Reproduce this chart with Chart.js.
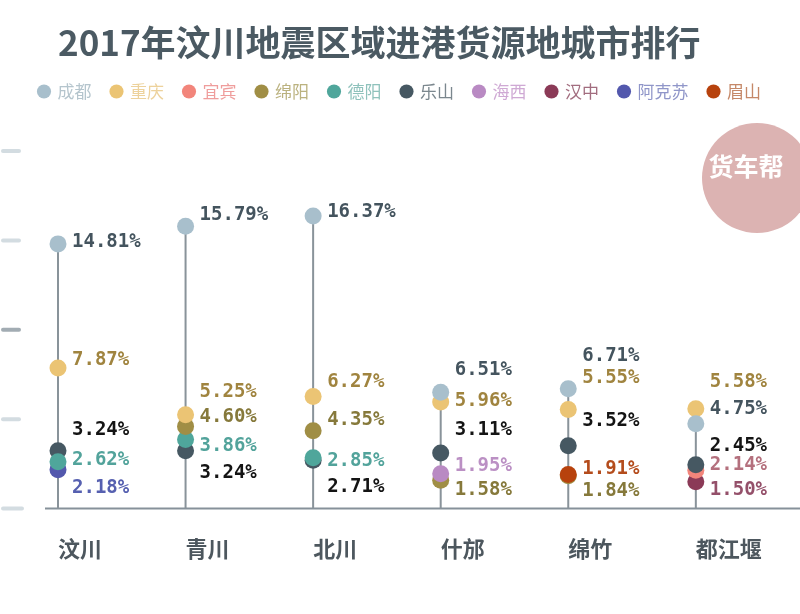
<!DOCTYPE html>
<html>
<head>
<meta charset="utf-8">
<script src="https://cdn.jsdelivr.net/npm/chart.js@4/dist/chart.umd.min.js"></script>
<style>
  html, body { margin: 0; background: #fff; }
  #wrap { width: 800px; height: 614px; }
</style>
</head>
<body>
<div id="wrap"><canvas id="chart"></canvas></div>
<script>
const FONT = '"Noto Sans CJK SC", "Noto Sans", sans-serif';

// 区县（横轴）
const COLUMNS = ['汶川', '青川', '北川', '什邡', '绵竹', '都江堰'];
// 货源地城市
const CITIES = ['成都', '重庆', '宜宾', '绵阳', '德阳', '乐山', '海西', '汉中', '阿克苏', '眉山'];

// 各城市占比 (%)，按 COLUMNS 顺序，null = 未上榜
const CHENGDU   = [14.81, 15.79, 16.37, 6.51, 6.71, 4.75];
const CHONGQING = [7.87, 5.25, 6.27, 5.96, 5.55, 5.58];
const YIBIN     = [null, null, null, null, null, 2.14];
const MIANYANG  = [null, 4.60, 4.35, 1.58, 1.84, null];
const DEYANG    = [2.62, 3.86, 2.85, null, null, null];
const LESHAN    = [3.24, 3.24, 2.71, 3.11, 3.52, 2.45];
const HAIXI     = [null, null, null, 1.95, null, null];
const HANZHONG  = [null, null, null, null, null, 1.50];
const AKESU     = [2.18, null, null, null, null, null];
const MEISHAN   = [null, null, null, null, 1.91, null];

const SERIES = [CHENGDU, CHONGQING, YIBIN, MIANYANG, DEYANG, LESHAN, HAIXI, HANZHONG, AKESU, MEISHAN];

// 左侧刻度短线
const TICK_VALUES = [0, 5, 10, 15, 20];

// styles
const DOT_COLORS = ['#a8bfcc', '#ebc474', '#f2857b', '#a08e45', '#4fa69b', '#465862', '#b98ac3', '#8b3a57', '#5358ad', '#b7420d'];
const LEGEND_TEXT = ['#b5c5cd', '#edd29c', '#ef9d9c', '#bbb27f', '#8fc2bc', '#7b878e', '#cfa9d4', '#a26d7f', '#9096c9', '#c58868'];
const LABEL_COLORS = ['#44545e', '#a0843f', '#b4707d', '#86793b', '#52a39b', '#141414', '#bb90c4', '#94506a', '#5660b0', '#b44c1c'];
// 叠放顺序：数字越小越靠上
const DRAW_ORDER = [0, 1, 7, 4, 5, 6, 2, 8, 9, 3];
// 数值标签相对圆点的上下微调 (px)
const LABEL_DY = [
  [-2, -11, -4, -22, -33, -15],
  [-8, -23, -14, -1, -31, -27],
  [0, 0, 0, 0, 0, -5],
  [0, -9, -11, 10, 15, 0],
  [-2, 6, 3, 0, 0, 0],
  [-21, 22, 27, -23, -25, -19],
  [0, 0, 0, -8, 0, 0],
  [0, 0, 0, 0, 0, 8],
  [18, 0, 0, 0, 0, 0],
  [0, 0, 0, 0, -5, 0]
];

const stemTop = COLUMNS.map((_, i) => Math.max(...SERIES.map(s => s[i] ?? 0)));
const stemData = COLUMNS.flatMap((_, i) => [{ x: i, y: 0 }, { x: i, y: stemTop[i] }, { x: i, y: null }]);

const datasets = SERIES.map((s, k) => ({
  type: 'line',
  label: CITIES[k],
  data: s.map((v, i) => (v == null ? null : { x: i, y: v })).filter(Boolean),
  showLine: false,
  pointRadius: 8.5,
  pointHoverRadius: 8.5,
  pointBorderWidth: 0,
  borderWidth: 0,
  backgroundColor: DOT_COLORS[k],
  borderColor: DOT_COLORS[k],
  pointBackgroundColor: DOT_COLORS[k],
  order: DRAW_ORDER[k],
  clip: false
}));
datasets.push({
  type: 'line',
  label: 'stem',
  data: stemData,
  borderColor: '#89939a',
  borderWidth: 2,
  pointRadius: 0,
  spanGaps: false,
  order: 99,
  clip: false
});

// 背景：左侧刻度短线、底部轴线、货车帮标志
const backdrop = {
  id: 'backdrop',
  beforeDatasetsDraw(chart) {
    const { ctx, scales: { y } } = chart;
    ctx.save();
    ctx.lineCap = 'round';
    ctx.lineWidth = 4;
    TICK_VALUES.forEach(t => {
      const py = y.getPixelForValue(t);
      ctx.strokeStyle = t === 10 ? '#a2acb3' : '#d3dce1';
      ctx.beginPath();
      ctx.moveTo(3, py);
      ctx.lineTo(t === 0 ? 22 : 19, py);
      ctx.stroke();
    });
    const base = y.getPixelForValue(0);
    ctx.lineCap = 'butt';
    ctx.lineWidth = 2;
    ctx.strokeStyle = '#86919a';
    ctx.beginPath();
    ctx.moveTo(45, base);
    ctx.lineTo(chart.width, base);
    ctx.stroke();

    ctx.fillStyle = '#dcb3b2';
    ctx.beginPath();
    ctx.arc(757, 178, 55, 0, Math.PI * 2);
    ctx.fill();
    ctx.fillStyle = '#ffffff';
    ctx.font = 'bold 25px ' + FONT;
    ctx.textAlign = 'center';
    ctx.textBaseline = 'middle';
    ctx.fillText('货车帮', 746, 166);
    ctx.restore();
  }
};

const valueLabels = {
  id: 'valueLabels',
  afterDatasetsDraw(chart) {
    const ctx = chart.ctx;
    ctx.save();
    ctx.font = 'bold 19px "DejaVu Sans Mono", monospace';
    ctx.textAlign = 'left';
    ctx.textBaseline = 'middle';
    SERIES.forEach((s, k) => {
      const meta = chart.getDatasetMeta(k);
      chart.data.datasets[k].data.forEach((d, j) => {
        const pt = meta.data[j];
        ctx.fillStyle = LABEL_COLORS[k];
        ctx.fillText(d.y.toFixed(2) + '%', pt.x + 14, pt.y + LABEL_DY[k][d.x]);
      });
    });
    ctx.restore();
  }
};

new Chart(document.getElementById('chart').getContext('2d'), {
  data: { datasets },
  options: {
    responsive: true,
    maintainAspectRatio: false,
    animation: false,
    events: [],
    layout: { padding: { top: 0, bottom: 25, left: 0, right: 0 } },
    plugins: {
      title: {
        display: true,
        text: '2017年汶川地震区域进港货源地城市排行',
        align: 'start',
        fullSize: false,
        color: '#4b5a63',
        font: { family: FONT, size: 35, weight: 'bold', lineHeight: 1 },
        padding: { top: 25, bottom: 3 }
      },
      legend: {
        display: true,
        position: 'top',
        align: 'center',
        labels: {
          usePointStyle: true,
          boxWidth: 10,
          boxHeight: 10,
          padding: 20,
          font: { family: FONT, size: 17 },
          sort: (a, b) => a.datasetIndex - b.datasetIndex,
          filter: item => item.datasetIndex < CITIES.length,
          generateLabels(chart) {
            const items = Chart.defaults.plugins.legend.labels.generateLabels(chart);
            items.forEach(it => {
              it.fontColor = LEGEND_TEXT[it.datasetIndex];
              it.lineWidth = 0;
              it.strokeStyle = 'rgba(0,0,0,0)';
            });
            return items;
          }
        }
      },
      tooltip: { enabled: false }
    },
    scales: {
      x: {
        type: 'linear',
        min: 0,
        max: 5.75,
        offset: false,
        afterBuildTicks(scale) { scale.ticks = COLUMNS.map((_, i) => ({ value: i })); },
        ticks: {
          autoSkip: false,
          maxRotation: 0,
          align: 'start',
          padding: 27,
          color: '#4d575e',
          font: { family: FONT, size: 22, weight: 'bold' },
          callback: v => COLUMNS[v]
        },
        grid: { display: false, drawTicks: false },
        border: { display: false }
      },
      y: {
        type: 'linear',
        min: 0,
        max: 22.3,
        ticks: { display: false },
        grid: { display: false, drawTicks: false },
        border: { display: false },
        afterFit(scale) { scale.width = 58; }
      }
    }
  },
  plugins: [backdrop, valueLabels]
});
</script>
</body>
</html>
